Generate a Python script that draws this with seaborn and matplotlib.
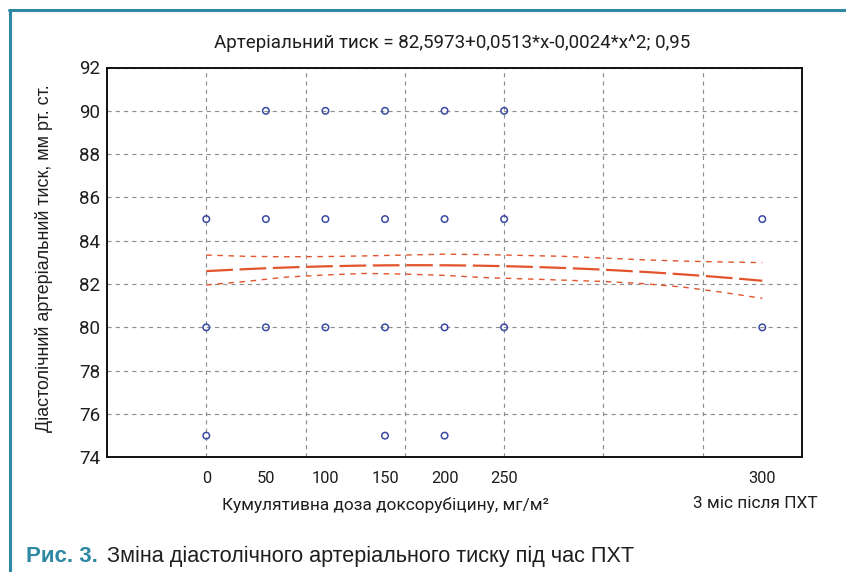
import numpy as np
import pandas as pd
import matplotlib
matplotlib.use("Agg")
import matplotlib.pyplot as plt
from matplotlib.lines import Line2D
import seaborn as sns

# Visits: cumulative doxorubicin dose (label) and week of treatment (x position)
dose_labels = ["0", "50", "100", "150", "200", "250", "300"]
visit_week = [0, 3, 6, 9, 12, 15, 28]

# Diastolic pressure readings (mm Hg) observed at each visit
dbp_readings = [
    [85, 80, 75],
    [90, 85, 80],
    [90, 85, 80],
    [90, 85, 80, 75],
    [90, 85, 80, 75],
    [90, 85, 80],
    [85, 80],
]

# Quadratic fit coefficients and confidence level
b0, b1, b2 = 82.5973, 0.0513, -0.0024
conf_level = 0.95

# 95% confidence band of the fit
band_week = [0, 2, 4, 6, 8, 10, 12, 14, 16, 18, 20, 22, 24, 26, 28]
band_upper = [83.34, 83.28, 83.26, 83.27, 83.30, 83.34, 83.38, 83.36,
              83.32, 83.28, 83.20, 83.12, 83.06, 83.02, 82.99]
band_lower = [81.96, 82.12, 82.32, 82.42, 82.49, 82.46, 82.40, 82.30,
              82.24, 82.18, 82.12, 82.02, 81.86, 81.62, 81.34]

TEAL = "#2e87a3"
RED = "#e2552c"
BLUE = "#3a4aa3"
GRID = "#8e8e8e"
TXT = "#1e1e1e"

sns.set_style("white")
plt.rcParams["font.family"] = ["Roboto", "DejaVu Sans"]

W, H = 846, 572
fig = plt.figure(figsize=(W / 100, H / 100), dpi=100)
ax = fig.add_axes([107 / W, 1 - 457.3 / H, (802 - 107) / W, (457.3 - 67.5) / H])

points = pd.DataFrame({
    "week": np.repeat(visit_week, [len(r) for r in dbp_readings]),
    "dbp": np.concatenate(dbp_readings),
})

# fitted curve from the stated equation
fit_x = np.linspace(visit_week[0], visit_week[-1], 300)
fit_y = b0 + b1 * fit_x + b2 * fit_x ** 2

sns.lineplot(x=band_week, y=band_upper, ax=ax, color=RED, lw=1.0,
             linestyle=(0, (4, 4)), zorder=3)
sns.lineplot(x=band_week, y=band_lower, ax=ax, color=RED, lw=1.0,
             linestyle=(0, (4, 4)), zorder=3)
sns.lineplot(x=fit_x, y=fit_y, ax=ax, color=RED, lw=1.6,
             linestyle=(0, (12, 3)), zorder=3)
sns.scatterplot(data=points, x="week", y="dbp", ax=ax, marker="o", s=22,
                facecolors="none", edgecolor=BLUE, linewidth=1.1, zorder=4)

ax.set_xlim(-5, 30)
ax.set_ylim(74, 92)
ax.xaxis.remove_overlapping_locs = False
ax.set_xticks(visit_week)
ax.set_xticklabels(dose_labels)
ax.set_xticks(np.arange(0, 30, 5), minor=True)
ax.set_yticks(np.arange(74, 93, 2))
ax.set_axisbelow(True)
ax.grid(False)
grid_kw = dict(color=GRID, lw=0.85, linestyle=(0, (3.5, 3.5)))
ax.grid(True, which="minor", axis="x", **grid_kw)
ax.grid(True, which="major", axis="y", **grid_kw)
ax.tick_params(axis="both", which="both", length=0)
ax.tick_params(axis="x", which="major", pad=10, labelsize=11.8, labelcolor=TXT)
ax.tick_params(axis="y", which="major", pad=5, labelsize=13.5, labelcolor=TXT)
ax.set_xlabel("")
ax.set_ylabel("")
for sp in ax.spines.values():
    sp.set_visible(True)
    sp.set_color("#111111")
    sp.set_linewidth(1.4)

coef_txt = f"{b0}+{b1}*x-{abs(b2)}*x^2; {conf_level}".replace(".", ",")
fig.text(452 / W, 1 - 48.3 / H, "Артеріальний тиск = " + coef_txt,
         ha="center", va="baseline", fontsize=13.5, color=TXT)

fig.text(44 / W, 1 - 258.5 / H, "Діастолічний артеріальний тиск, мм рт. ст.",
         rotation=90, ha="center", va="center", fontsize=12.9, color=TXT,
         family=["Liberation Sans", "DejaVu Sans"])

fig.text(385 / W, 1 - 505 / H, "Кумулятивна доза доксорубіцину, мг/м²",
         ha="center", va="center", fontsize=12.4, color=TXT)
fig.text(755 / W, 1 - 504 / H, "3 міс після ПХТ",
         ha="center", va="center", fontsize=12.4, color=TXT)

# caption
fig.text(26 / W, 1 - 561.7 / H, "Рис. 3.", ha="left", va="baseline",
         fontsize=16, fontweight="bold", color=TEAL,
         family=["Liberation Sans", "DejaVu Sans"])
fig.text(107 / W, 1 - 561.7 / H, "Зміна діастолічного артеріального тиску під час ПХТ",
         ha="left", va="baseline", fontsize=15.6, color=TXT,
         family=["Liberation Sans", "DejaVu Sans"])

# page frame
fig.add_artist(Line2D([10 / W, 10 / W], [0, 1 - 9.5 / H],
                      transform=fig.transFigure, color=TEAL, lw=2.2))
fig.add_artist(Line2D([9 / W, 1], [1 - 9.5 / H, 1 - 9.5 / H],
                      transform=fig.transFigure, color=TEAL, lw=2.2))

fig.savefig("out.png", dpi=100)
